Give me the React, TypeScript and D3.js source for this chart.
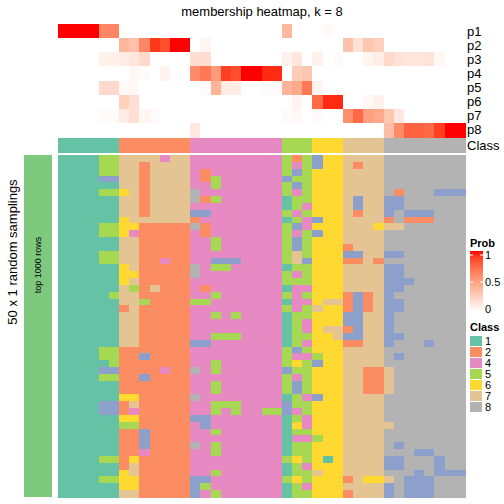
import React from "react";
import * as d3 from "d3";

// ---------- data ----------
const probLabels = ["p1", "p2", "p3", "p4", "p5", "p6", "p7", "p8"];
const p1 = [1,1,1,1,0.62,0.62,0,0,0,0, 0,0,0,0,0,0,0,0,0,0, 0,0,0.38,0,0,0,0.03,0,0,0, 0,0,0,0,0,0,0,0,0,0];
const p2 = [0,0,0,0,0,0,0.38,0.33,0.62,0.92, 0.85,1,1,0,0.05,0,0,0,0,0, 0,0,0,0,0,0,0,0,0.32,0.15, 0.3,0.26,0,0,0,0,0,0,0,0];
const p3 = [0,0,0,0,0.08,0.08,0.1,0.13,0.2,0, 0,0,0,0.18,0.18,0,0,0,0,0, 0,0,0.07,0.13,0,0.07,0,0.02,0,0, 0.06,0.09,0.2,0.15,0.13,0.13,0.15,0.04,0,0];
const p4 = [0,0,0,0,0,0,0,0.04,0.02,0, 0.06,0,0,0.6,0.68,0.52,0.9,0.85,1,1, 0.95,0.95,0,0.27,0.3,0,0,0,0,0, 0,0,0,0,0,0,0,0,0,0];
const p5 = [0,0,0,0,0.2,0.2,0.03,0.04,0,0, 0,0,0,0,0.02,0.4,0.1,0.1,0,0, 0.02,0.02,0.4,0.45,0.68,0.06,0,0,0,0, 0,0,0,0,0,0,0,0,0,0];
const p6 = [0,0,0,0,0,0,0.25,0.17,0,0, 0,0,0,0,0,0,0,0,0,0, 0,0,0,0.06,0,0.75,0.95,0.95,0,0, 0.04,0.07,0,0,0,0,0,0,0,0];
const p7 = [0,0,0,0,0.02,0.02,0.1,0.17,0.05,0.02, 0,0,0,0,0,0,0,0,0,0, 0,0,0.02,0.04,0,0.03,0,0,0.58,0.75, 0.5,0.45,0.3,0.12,0,0,0,0,0,0];
const p8 = [0,0,0,0,0,0,0,0,0,0, 0,0,0,0.12,0,0,0,0,0,0, 0,0,0,0,0,0,0,0,0,0, 0,0,0.35,0.6,0.78,0.78,0.75,0.9,1,1];
const probRows = [p1, p2, p3, p4, p5, p6, p7, p8];

const columnClass = [
  1,1,1,1,1,1, 2,2,2,2,2,2,2, 4,4,4,4,4,4,4,4,4, 5,5,5, 6,6,6, 7,7,7,7, 8,8,8,8,8,8,8,8,
];

// 50 random samplings x 40 columns (class per cell)
const samplingRows = [
  "1111 55 77 77477 444444444 525 366 7777 88888888",
  "1111 55 77 27777 444444444 545 366 7277 88888888",
  "1111 55 77 27777 424444444 535 666 7777 88888888",
  "1111 33 77 27777 425444444 355 666 7777 88888888",
  "1111 11 77 27777 445444444 535 666 7777 88888888",
  "1111 55 67 27777 844444444 545 666 7777 82888333",
  "1111 11 77 27777 825444444 155 666 7377 33888888",
  "1111 11 77 27777 444444444 154 666 7377 33888888",
  "1111 11 77 27777 334444444 545 666 7277 38333888",
  "1111 11 67 77777 244444444 154 366 7777 28222888",
  "1111 55 66 22222 824444444 534 666 7776 77888888",
  "1111 55 64 22222 424444444 545 366 7777 88888888",
  "1111 11 77 22222 445444444 535 666 7777 88888888",
  "1111 11 77 22222 445444444 535 666 2777 88888888",
  "1111 55 77 22222 444444444 575 666 3377 33888888",
  "1111 55 77 22422 443334444 573 666 2272 88888888",
  "1111 11 67 22222 845544444 155 666 7777 33888888",
  "1111 11 66 22222 844444444 545 666 7777 33888888",
  "1111 11 67 22222 444444444 555 666 7777 33388888",
  "1111 11 75 27222 424444444 144 666 7777 33888888",
  "1111 15 77 22222 445444444 545 666 2327 38888888",
  "1111 11 77 52222 554444444 144 677 2327 33888888",
  "1111 11 27 22222 444444444 545 766 2327 33888888",
  "1111 11 77 22222 445454444 155 666 3377 38888888",
  "1111 11 77 22222 444444444 154 666 3377 38888888",
  "1111 11 77 22222 444444444 154 677 2377 38888888",
  "1111 11 77 22222 445554444 155 667 3377 33888888",
  "1111 11 77 22222 334444444 154 666 2277 38883888",
  "1111 55 22 22222 444444444 535 666 7777 88888888",
  "1111 55 22 32222 444444444 544 566 7777 83888888",
  "1111 15 22 22222 445444444 565 366 7777 88888888",
  "1111 33 22 22422 845444444 355 666 7722 78888888",
  "1111 55 22 32222 444444444 545 666 7722 78888888",
  "1111 11 22 22222 445444444 535 666 7722 78888888",
  "1111 11 22 22222 445444444 535 666 7722 78888888",
  "1111 11 66 22222 844444444 154 366 7777 88888888",
  "1111 33 27 22222 445554444 355 666 7777 88888888",
  "1111 33 24 22222 445454455 345 666 7777 88888888",
  "1111 11 66 22222 334444444 154 666 7777 88888888",
  "1111 11 55 22222 434444444 164 666 7777 78888888",
  "1111 11 22 32222 445444444 155 666 7777 88888888",
  "1111 11 22 32222 444444444 144 566 7777 88888888",
  "1111 11 22 32222 845444444 155 666 7777 83888888",
  "1111 11 22 42222 445444444 155 666 7777 88833888",
  "1111 55 26 22222 444444444 565 616 7777 33888388",
  "1111 11 27 22222 444444444 154 666 7777 33888388",
  "1111 11 67 22222 445444444 155 766 7777 88838333",
  "1111 55 66 22222 334444444 565 666 2766 78333888",
  "1111 11 66 22222 354444444 154 666 7777 38333888",
  "1111 11 77 22222 345444444 155 666 2777 38333888",
];

const legendClasses = [1, 2, 4, 5, 6, 7, 8];
const probTicks = [1, 0.5, 0];

const classColor: Record<number, string> = {
  1: "#66C2A5", 2: "#FC8D62", 3: "#8DA0CB", 4: "#E78AC3",
  5: "#A6D854", 6: "#FFD92F", 7: "#E5C494", 8: "#B3B3B3",
};

const FONT = "'Liberation Sans', Arial, Helvetica, sans-serif";

export default function App() {
  const nCol = columnClass.length;
  const grid = samplingRows.map((r) => r.replace(/ /g, "").split("").map(Number));

  const x = d3.scaleBand<number>().domain(d3.range(nCol)).range([58, 465]);
  const yTop = d3.scaleBand<number>().domain(d3.range(8)).range([24, 137]);
  const yBot = d3.scaleBand<number>().domain(d3.range(grid.length)).range([155, 497]);
  const probColor = d3.scaleLinear<string>().domain([0, 1]).range(["#FFFFFF", "#FF0000"]).interpolate(d3.interpolateLab);

  const legY = d3.scaleLinear().domain([0, 1]).range([309, 255]);
  const gradStops = d3.range(0, 1.0001, 0.1);

  return (
    <div style={{ position: "fixed", left: 0, top: 0 }}>
      <svg width={504} height={504} style={{ display: "block", background: "#fff" }} fontFamily={FONT}>
        <defs>
          <linearGradient id="probGrad" x1="0" y1="1" x2="0" y2="0">
            {gradStops.map((t) => (
              <stop key={t} offset={t} stopColor={probColor(t)} />
            ))}
          </linearGradient>
        </defs>
        <rect width={504} height={504} fill="#fff" />
        <text x={262} y={16} textAnchor="middle" fontSize={13}>membership heatmap, k = 8</text>

        {/* probability heatmap */}
        <g shapeRendering="crispEdges">
          {probRows.map((row, ri) =>
            row.map((v, ci) => (
              <rect key={`p${ri}-${ci}`} x={x(ci)} y={yTop(ri)} width={x.bandwidth() + 0.5} height={yTop.bandwidth() + 0.5} fill={probColor(v)} />
            ))
          )}
          {columnClass.map((c, ci) => (
            <rect key={`c${ci}`} x={x(ci)} y={138} width={x.bandwidth() + 0.5} height={15} fill={classColor[c]} />
          ))}
          {grid.map((row, ri) =>
            row.map((c, ci) => (
              <rect key={`g${ri}-${ci}`} x={x(ci)} y={yBot(ri)} width={x.bandwidth() + 0.5} height={yBot.bandwidth() + 0.5} fill={classColor[c]} />
            ))
          )}
          <rect x={24} y={155} width={28} height={342} fill="#7FC97F" />
        </g>

        {probLabels.map((l, i) => (
          <text key={l} x={467} y={(yTop(i) as number) + yTop.bandwidth() / 2} dy="0.35em" fontSize={13}>{l}</text>
        ))}
        <text x={467} y={145.5} dy="0.35em" fontSize={13}>Class</text>

        <text transform={`translate(41,265) rotate(-90)`} textAnchor="middle" fontSize={9}>top 1000 rows</text>
        <text transform={`translate(17,252) rotate(-90)`} textAnchor="middle" fontSize={13}>50 x 1 random samplings</text>

        {/* Prob legend */}
        <text x={470} y={247} fontSize={11} fontWeight="bold">Prob</text>
        <rect x={470} y={251} width={13} height={61} fill="url(#probGrad)" />
        {probTicks.map((t) => (
          <g key={t}>
            {t > 0 && (
              <>
                <line x1={470} x2={473} y1={legY(t)} y2={legY(t)} stroke="#fff" strokeWidth={1} />
                <line x1={480} x2={483} y1={legY(t)} y2={legY(t)} stroke="#fff" strokeWidth={1} />
              </>
            )}
            <text x={485} y={legY(t)} dy="0.35em" fontSize={11}>{t}</text>
          </g>
        ))}

        {/* Class legend */}
        <text x={470} y={331} fontSize={11} fontWeight="bold">Class</text>
        {legendClasses.map((c, i) => (
          <g key={c}>
            <rect x={470} y={336 + i * 11} width={12} height={10} fill={classColor[c]} />
            <text x={485} y={336 + i * 11 + 5} dy="0.35em" fontSize={11}>{c}</text>
          </g>
        ))}
      </svg>
    </div>
  );
}
